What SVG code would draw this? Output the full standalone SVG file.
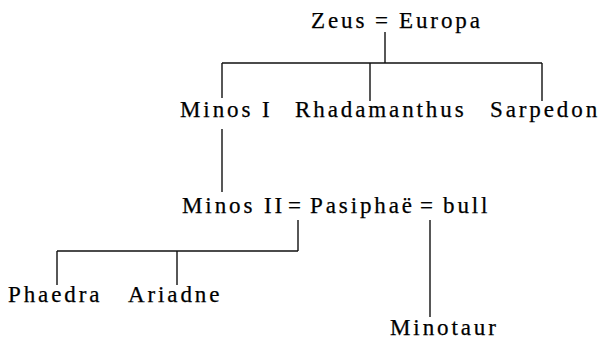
<svg xmlns="http://www.w3.org/2000/svg" width="601" height="341" viewBox="0 0 601 341">
<style>
  .t { font-family: "Liberation Serif", "Times New Roman", serif; font-size: 23px; fill: #000; stroke: #000; stroke-width: 0.25; letter-spacing: 2.9px; }
  .eq { letter-spacing: 0; }
  .ln { stroke: #111; stroke-width: 1.4; fill: none; }
</style>
<rect width="601" height="341" fill="#fff"/>
<g id="connectors">
  <path class="ln" d="M385 32V63M222 63H542M222 63V98M370 63V101M542 63V101"/>
  <path class="ln" d="M222 129V192"/>
  <path class="ln" d="M298 220V251M57 251H298M57 251V285M177 251V285"/>
  <path class="ln" d="M430 220V317"/>
</g>
<g id="zeus-europa"><text class="t" y="28"><tspan x="311">Zeus</tspan><tspan class="eq" x="375">=</tspan><tspan x="399">Europa</tspan></text></g>
<g id="minos-i"><text class="t" x="180" y="117">Minos I</text></g>
<g id="rhadamanthus"><text class="t" x="295" y="117">Rhadamanthus</text></g>
<g id="sarpedon"><text class="t" x="490" y="117">Sarpedon</text></g>
<g id="minos-ii-pasiphae-bull"><text class="t" y="213"><tspan x="182">Minos II</tspan><tspan class="eq" x="288">=</tspan><tspan x="310">Pasiphaë</tspan><tspan class="eq" x="420">=</tspan><tspan x="443">bull</tspan></text></g>
<g id="phaedra"><text class="t" x="8" y="302">Phaedra</text></g>
<g id="ariadne"><text class="t" x="128" y="302">Ariadne</text></g>
<g id="minotaur"><text class="t" x="390" y="335">Minotaur</text></g>
</svg>
